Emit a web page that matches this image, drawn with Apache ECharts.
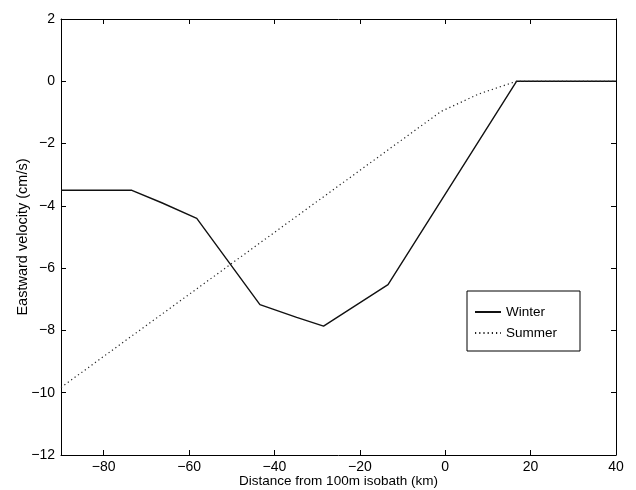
<!DOCTYPE html>
<html>
<head>
<meta charset="utf-8">
<script src="https://cdn.jsdelivr.net/npm/echarts@6/dist/echarts.min.js"></script>
<style>html,body{margin:0;padding:0;background:#fff}#c{width:636px;height:490px}</style>
</head>
<body>
<div id="c"></div>
<script>
var winterX = [-90, -73.4, -66.4, -58.2, -43.4, -34.8, -28.5, -13.4, 16.7, 40];
var winterY = [-3.5, -3.5, -3.9, -4.4, -7.17, -7.58, -7.86, -6.53, 0, 0];
var summerX = [-90, -1, 8, 16.7, 40];
var summerY = [-9.83, -0.97, -0.4, 0, 0];
var xTicks = [-80, -60, -40, -20, 0, 20, 40];
var yTicks = [-12, -10, -8, -6, -4, -2, 0, 2];

function pairs(xs, ys){ return xs.map(function(x,i){ return [x, ys[i]]; }); }
function minus(v){ return String(v).replace('-', '\u2212'); }

var font = 'Liberation Sans, Arial, sans-serif';
var chart = echarts.init(document.getElementById('c'), null, {renderer:'canvas'});
var line = {show: true, onZero: false, lineStyle: {color: '#000', width: 1}};
function ticks(vals){ return {show: true, inside: true, length: 5, lineStyle: {color: '#000'}, customValues: vals}; }
chart.setOption({
  animation: false,
  backgroundColor: '#fff',
  grid: {left: 61, right: 20, top: 19, bottom: 35, containLabel: false, outerBoundsMode: 'none'},
  legend: {
    orient: 'vertical', left: 467, top: 291,
    backgroundColor: '#fff', borderColor: '#000', borderWidth: 1,
    padding: [14, 23, 11, 7], itemWidth: 26, itemHeight: 14, itemGap: 7,
    itemStyle: {opacity: 0},
    textStyle: {fontFamily: font, fontSize: 13.5, color: '#000'},
    data: ['Winter', 'Summer']
  },
  xAxis: [
    {type: 'value', min: -90, max: 40,
      name: 'Distance from 100m isobath (km)', nameLocation: 'middle', nameGap: 19,
      nameMoveOverlap: false,
      nameTextStyle: {fontFamily: font, fontSize: 13.5, color: '#000'},
      axisLine: line, axisTick: ticks(xTicks), splitLine: {show: false},
      axisLabel: {fontFamily: font, fontSize: 14, color: '#000', margin: 5,
        customValues: xTicks, formatter: minus}},
    {type: 'value', min: -90, max: 40, position: 'top',
      axisLine: line, axisTick: ticks(xTicks), splitLine: {show: false},
      axisLabel: {show: false}}
  ],
  yAxis: [
    {type: 'value', min: -12, max: 2,
      name: 'Eastward velocity (cm/s)', nameLocation: 'middle', nameGap: 31,
      nameMoveOverlap: false,
      nameTextStyle: {fontFamily: font, fontSize: 14.5, color: '#000'},
      axisLine: line, axisTick: ticks(yTicks), splitLine: {show: false},
      axisLabel: {fontFamily: font, fontSize: 14, color: '#000', margin: 6,
        customValues: yTicks, formatter: minus}},
    {type: 'value', min: -12, max: 2, position: 'right',
      axisLine: line, axisTick: ticks(yTicks), splitLine: {show: false},
      axisLabel: {show: false}}
  ],
  series: [
    {name: 'Winter', type: 'line', symbol: 'none', data: pairs(winterX, winterY),
      lineStyle: {color: '#111', width: 1.4}, itemStyle: {color: '#111'}},
    {name: 'Summer', type: 'line', symbol: 'none', data: pairs(summerX, summerY),
      lineStyle: {color: '#222', width: 1.2, type: [1.2, 3]}, itemStyle: {color: '#222'}}
  ]
});
</script>
</body>
</html>
